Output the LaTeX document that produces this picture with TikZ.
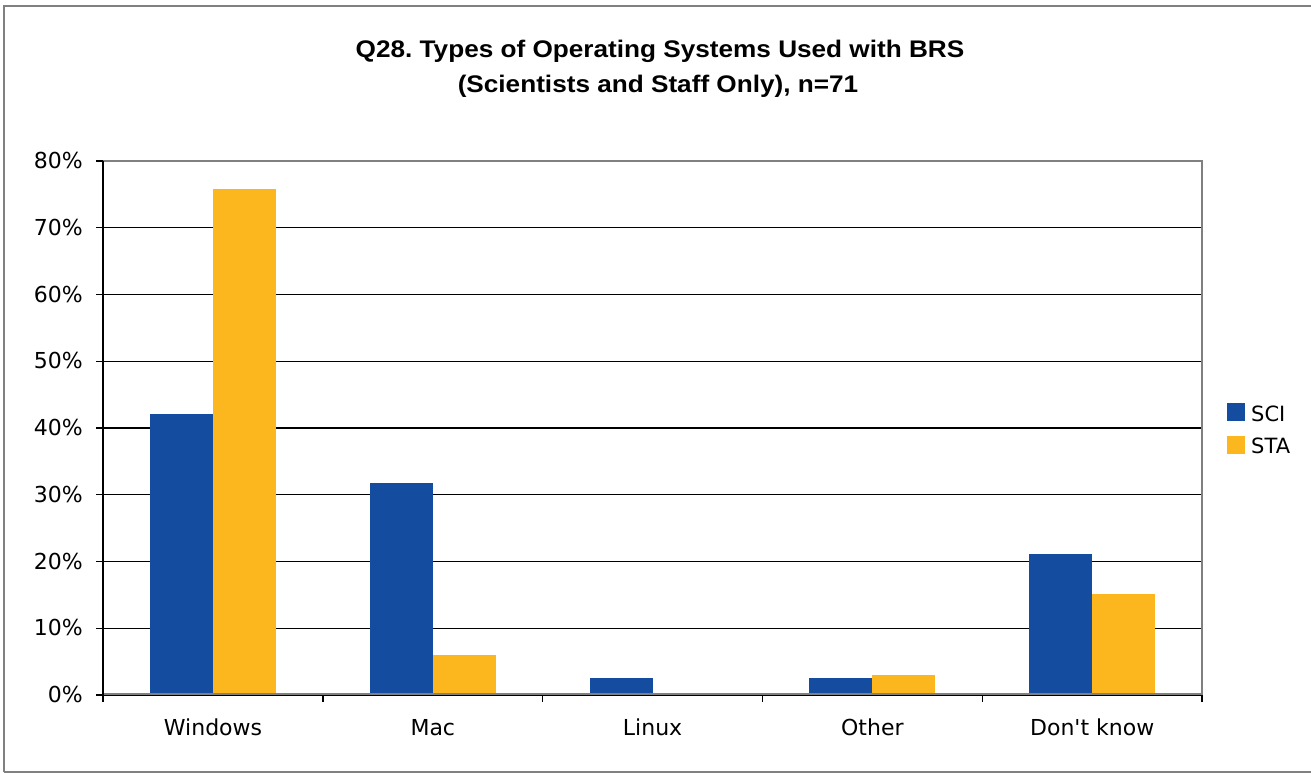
\documentclass[tikz,border=0pt]{standalone}
\usepackage{fontspec}
\setmainfont{DejaVu Sans}[Ligatures=TeXOff]
\newfontfamily\titlefont{Liberation Sans}[FakeStretch=1.09]
\definecolor{sciblue}{RGB}{20,76,160}
\definecolor{stagold}{RGB}{252,183,30}
\definecolor{frame}{RGB}{128,128,128}
\frenchspacing
\begin{document}
\begin{tikzpicture}[x=1pt,y=-1pt,
  lbl/.style={font=\fontsize{22}{26}\selectfont, inner sep=0pt},
  ttl/.style={font=\titlefont\bfseries\fontsize{24}{28}\selectfont, inner sep=0pt, anchor=base},
  grid/.style={black, line width=1.3pt},
  axis/.style={black, line width=1.4pt}]
\useasboundingbox (0,0) rectangle (1311,773);
\fill[white] (0,0) rectangle (1311,773);
\draw[frame, line width=1.4pt] (4,772) -- (4,6) -- (1312,6);
\draw[frame, line width=1.4pt] (4,772) -- (1312,772);
% title
\node[ttl] (title1) at (660,58) {Q28.\ Types of Operating Systems Used with BRS};
\node[ttl] (title2) at (658,93) {(Scientists and Staff Only), n=71};
% gridlines
\foreach \p in {10,20,...,70} {
  \draw[grid] (96,{695-6.675*\p}) -- (1202,{695-6.675*\p});
  \node[lbl, anchor=base east] (y\p) at (83,{695-6.675*\p+7.5}) {\p\%};
}
\node[lbl, anchor=base east] (y0) at (83,702.5) {0\%};
\node[lbl, anchor=base east] (y80) at (83,168.5) {80\%};
\draw[axis] (96,695) -- (103,695);
\draw[axis] (96,161) -- (103,161);
% bars
\foreach \i/\sci/\sta/\name in {0/42.1/75.8/Windows, 1/31.7/6.0/Mac, 2/2.55/0/Linux, 3/2.55/3.0/Other, 4/21.1/15.2/Don't know} {
  \pgfmathsetmacro{\xl}{103+219.8*\i+47}
  \fill[sciblue] (\xl,695) rectangle ({\xl+63},{695-6.675*\sci});
  \ifdim\sta pt>0pt
    \fill[stagold] ({\xl+63},695) rectangle ({\xl+126},{695-6.675*\sta});
  \fi
  \node[lbl, anchor=base] (c\i) at ({103+219.8*\i+110},735) {\name};
}
% plot frame
\draw[frame, line width=1.4pt] (103,161) -- (1202,161) -- (1202,695);
\draw[frame, line width=1.2pt] (103,694) -- (1202,694);
\draw[axis] (103,161) -- (103,702);
\draw[axis] (103,695.5) -- (1202,695.5);
\foreach \i in {1,...,5} { \draw[axis] ({103+219.8*\i},695) -- ({103+219.8*\i},702); }
% legend
\fill[sciblue] (1227,403) rectangle (1245,421);
\fill[stagold] (1227,436) rectangle (1245,454);
\node[lbl, anchor=base west, font=\fontsize{21}{25}\selectfont] (lsci) at (1251,421) {SCI};
\node[lbl, anchor=base west, font=\fontsize{21}{25}\selectfont] (lsta) at (1251,453) {STA};
\end{tikzpicture}
\end{document}
